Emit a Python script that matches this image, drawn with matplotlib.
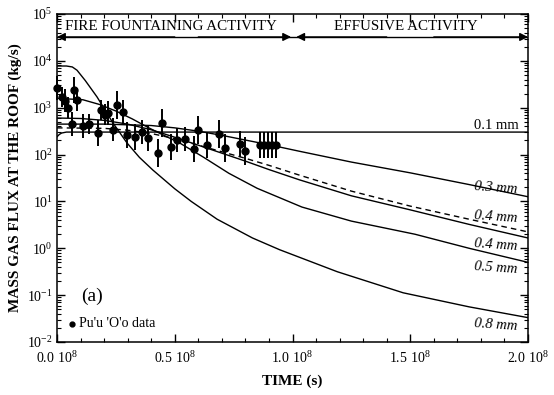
import numpy as np
import matplotlib
matplotlib.use("Agg")
from matplotlib import pyplot as plt
from matplotlib.ticker import FixedLocator, FixedFormatter, LogLocator, NullFormatter, MultipleLocator

plt.rcParams["font.family"] = ["Liberation Serif", "DejaVu Serif"]
plt.rcParams["mathtext.fontset"] = "custom"
plt.rcParams["mathtext.rm"] = "Liberation Serif"

# model curves: time (1e8 s) and log10 of mass flux (kg/s)
t_01 = [0.0, 0.01, 0.02, 0.04, 0.1, 0.5, 1.0, 1.5, 2.0]
f_01 = [2.38, 2.43, 2.46, 2.48, 2.48, 2.48, 2.48, 2.48, 2.48]

t_03 = [0.0, 0.2, 0.4, 0.5, 0.6, 0.7, 0.8, 0.9, 1.03, 1.25, 1.5, 1.75, 2.0]
f_03 = [2.65, 2.65, 2.62, 2.57, 2.50, 2.41, 2.31, 2.21, 2.07, 1.84, 1.61, 1.36, 1.10]

t_04d = [0.0, 0.2, 0.3, 0.4, 0.5, 0.6, 0.7, 0.8, 0.9, 1.03, 1.25, 1.5, 1.75, 2.0]
f_04d = [2.57, 2.56, 2.52, 2.45, 2.34, 2.20, 2.06, 1.92, 1.77, 1.56, 1.22, 0.90, 0.62, 0.35]

t_04 = [0.0, 0.1, 0.2, 0.3, 0.4, 0.5, 0.6, 0.7, 0.8, 0.9, 1.03, 1.25, 1.5, 1.75, 2.0]
f_04 = [2.78, 2.77, 2.73, 2.65, 2.53, 2.37, 2.20, 2.03, 1.86, 1.68, 1.46, 1.12, 0.82, 0.51, 0.22]

t_05 = [0.0, 0.11, 0.18, 0.25, 0.32, 0.39, 0.45, 0.52, 0.62, 0.73, 0.85, 1.04, 1.25, 1.52, 1.75, 2.0]
f_05 = [3.20, 3.17, 3.07, 2.93, 2.76, 2.57, 2.42, 2.25, 1.95, 1.60, 1.28, 0.88, 0.58, 0.30, 0.00, -0.30]

t_08 = [0.0, 0.04, 0.065, 0.085, 0.12, 0.17, 0.237, 0.297, 0.35, 0.407, 0.5, 0.57, 0.68,
        0.83, 0.945, 1.19, 1.47, 1.75, 2.0]
f_08 = [3.89, 3.89, 3.87, 3.80, 3.58, 3.23, 2.68, 2.25, 1.94, 1.67, 1.27, 1.00, 0.62,
        0.22, -0.03, -0.50, -0.95, -1.25, -1.48]

# Pu'u 'O'o data: time (1e8 s), log10 flux, error half-width (decades)
obs_t = [0.0, 0.02, 0.035, 0.047, 0.072, 0.085, 0.064, 0.11, 0.135, 0.174, 0.186, 0.203,
         0.216, 0.237, 0.254, 0.28, 0.297, 0.33, 0.36, 0.386, 0.428, 0.445, 0.483, 0.508,
         0.542, 0.58, 0.60, 0.636, 0.69, 0.712, 0.775, 0.797, 0.864, 0.88, 0.898, 0.915, 0.93]
obs_f = [3.42, 3.23, 3.15, 3.00, 3.38, 3.17, 2.65, 2.61, 2.65, 2.46, 2.95, 2.85,
         2.89, 2.53, 3.06, 2.91, 2.42, 2.38, 2.48, 2.36, 2.04, 2.68, 2.16, 2.31,
         2.33, 2.12, 2.53, 2.21, 2.44, 2.14, 2.23, 2.08, 2.21, 2.21, 2.21, 2.21, 2.21]
obs_e = [0.25, 0.22, 0.25, 0.22, 0.28, 0.25, 0.25, 0.25, 0.22, 0.28, 0.22, 0.22,
         0.25, 0.25, 0.30, 0.25, 0.28, 0.28, 0.25, 0.28, 0.30, 0.30, 0.28, 0.25,
         0.25, 0.28, 0.30, 0.28, 0.30, 0.30, 0.28, 0.30, 0.28, 0.28, 0.28, 0.28, 0.28]

curve_labels = ["0.1 mm", "0.3 mm", "0.4 mm", "0.4 mm", "0.5 mm", "0.8 mm"]
label_pos = [(1.865, 2.63), (1.865, 1.29), (1.865, 0.66), (1.865, 0.07), (1.865, -0.43), (1.865, -1.63)]

x_ticks = [0.0, 0.5, 1.0, 1.5, 2.0]
x_ticklabels = [r"$\mathregular{%.1f\ 10^{8}}$" % v for v in x_ticks]
y_exps = [-2, -1, 0, 1, 2, 3, 4, 5]


def to_s(t):
    return np.array(t) * 1e8


def to_flux(f):
    return 10.0 ** np.array(f)


fig = plt.figure(figsize=(5.54, 3.95), dpi=100)
ax = fig.add_axes([57 / 554, 53 / 395, 471 / 554, 328 / 395])

for t, f, ls in [(t_01, f_01, "-"), (t_03, f_03, "-"), (t_04d, f_04d, (0, (4, 3))),
                 (t_04, f_04, "-"), (t_05, f_05, "-"), (t_08, f_08, "-")]:
    ax.plot(to_s(t), to_flux(f), color="black", lw=1.0, linestyle=ls)

y = to_flux(obs_f)
lo = y - 10.0 ** (np.array(obs_f) - np.array(obs_e))
hi = 10.0 ** (np.array(obs_f) + np.array(obs_e)) - y
ax.errorbar(to_s(obs_t), y, yerr=[lo, hi], fmt="o", color="black", ms=5,
            elinewidth=1.4, capsize=0, clip_on=False, zorder=3)

for lab, (tx, fy), in zip(curve_labels, label_pos):
    rot = 0 if lab == "0.1 mm" and fy > 2 else -4
    ax.text(tx * 1e8, 10.0 ** fy, lab, ha="center", va="center", fontsize=10.5,
            rotation=rot, style="normal" if rot == 0 else "italic")

ax.set_yscale("log")
ax.set_xlim(0, 2e8)
ax.set_ylim(1e-2, 1e5)

ax.xaxis.set_major_locator(FixedLocator(to_s(x_ticks)))
ax.xaxis.set_major_formatter(FixedFormatter(x_ticklabels))
ax.xaxis.set_minor_locator(MultipleLocator(0.1e8))
ax.yaxis.set_major_locator(FixedLocator([10.0 ** e for e in y_exps]))
ax.yaxis.set_major_formatter(FixedFormatter([r"$\mathregular{10^{%d}}$" % e for e in y_exps]))
ax.yaxis.set_minor_locator(LogLocator(base=10, subs=np.arange(2, 10), numticks=20))
ax.yaxis.set_minor_formatter(NullFormatter())
ax.tick_params(which="both", direction="in", top=True, right=True, labelsize=10)
ax.tick_params(which="major", length=6, width=1)
ax.tick_params(which="minor", length=3, width=0.8)
ax.tick_params(axis="x", pad=6)
ax.tick_params(axis="y", pad=3)
for s in ax.spines.values():
    s.set_linewidth(1.1)

# activity banner
yb = 0.93
ax.plot([0, 1], [yb, yb], transform=ax.transAxes, color="black", lw=1.0)
arrow = dict(arrowstyle="-|>", color="black", lw=1.0, mutation_scale=12, shrinkA=0, shrinkB=0)
ax.annotate("", xy=(0.0, yb), xytext=(0.25, yb), xycoords="axes fraction", arrowprops=arrow)
ax.annotate("", xy=(0.497, yb), xytext=(0.3, yb), xycoords="axes fraction", arrowprops=arrow)
ax.annotate("", xy=(0.508, yb), xytext=(0.7, yb), xycoords="axes fraction", arrowprops=arrow)
ax.annotate("", xy=(1.0, yb), xytext=(0.8, yb), xycoords="axes fraction", arrowprops=arrow)
ax.text(0.241, 0.963, "FIRE FOUNTAINING ACTIVITY", transform=ax.transAxes, ha="center",
        va="center", fontsize=10.8)
ax.text(0.74, 0.963, "EFFUSIVE ACTIVITY", transform=ax.transAxes, ha="center",
        va="center", fontsize=10.8)

ax.text(0.148e8, 10.0 ** -1.03, "(a)", fontsize=14, ha="center", va="center")
ax.plot([0.064e8], [10.0 ** -1.61], "o", color="black", ms=3.5)
ax.text(0.095e8, 10.0 ** -1.61, "Pu'u 'O'o data", fontsize=10, ha="left", va="center")

ax.set_xlabel("TIME (s)", fontsize=11, fontweight="bold", labelpad=6)
ax.set_ylabel("MASS GAS FLUX AT THE ROOF (kg/s)", fontsize=11, fontweight="bold", labelpad=4)

fig.savefig("out.png", dpi=100)
